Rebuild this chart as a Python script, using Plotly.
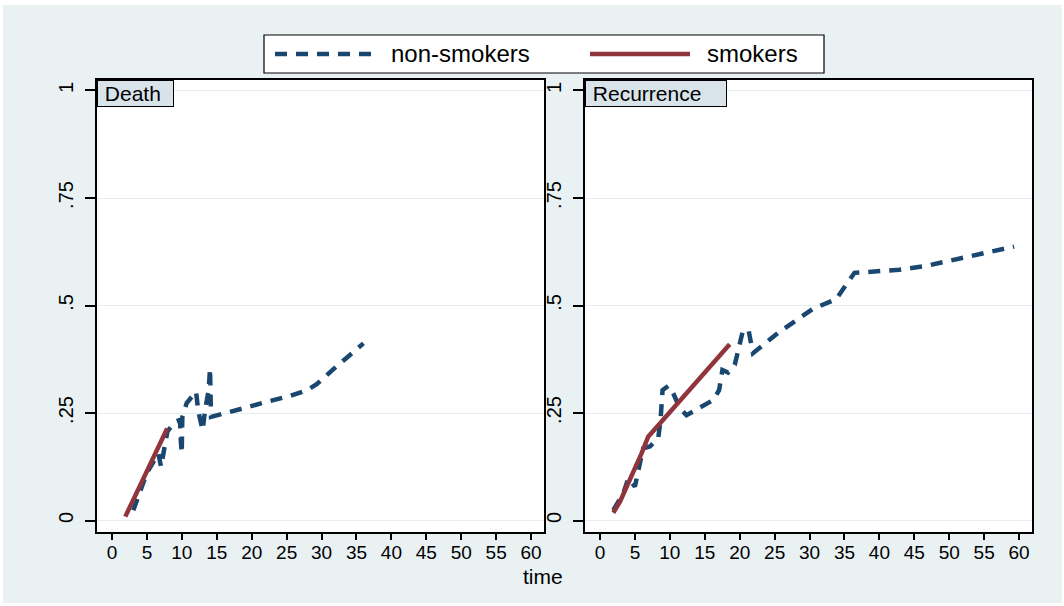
import plotly.graph_objects as go

# ---------------- data ----------------
death_non_x = [3.05, 4.01, 4.97, 6.64, 7.02, 7.45, 7.93, 9.02, 9.74, 9.83, 9.98, 10.07, 10.69,
               12.03, 12.36, 12.98, 13.32, 13.84, 14.03, 14.18, 15.7, 18.8, 22.15, 25.5, 27.9,
               29.3, 31.7, 33.8, 36.0]
death_non_y = [0.024, 0.071, 0.110, 0.156, 0.125, 0.164, 0.207, 0.230, 0.234, 0.191, 0.156, 0.241, 0.273,
               0.300, 0.253, 0.210, 0.257, 0.303, 0.354, 0.241, 0.247, 0.261, 0.276, 0.290, 0.303,
               0.317, 0.352, 0.383, 0.412]
death_smk_x = [1.9, 4.7, 7.9]
death_smk_y = [0.009, 0.102, 0.214]

rec_non_x = [1.90, 3.33, 4.05, 5.0, 5.71, 6.19, 7.14, 8.33, 8.67, 8.95, 9.76, 10.48, 11.43, 12.38,
             16.19, 17.05, 17.52, 18.33, 19.29, 19.9, 20.48, 21.29, 21.9, 25.71, 30.48, 33.81,
             35.0, 36.43, 42.86, 46.67, 59.29]
rec_non_y = [0.024, 0.063, 0.098, 0.079, 0.133, 0.168, 0.172, 0.191, 0.234, 0.303, 0.313, 0.296, 0.261, 0.245,
             0.280, 0.303, 0.350, 0.344, 0.362, 0.408, 0.443, 0.441, 0.389, 0.439, 0.492, 0.515,
             0.544, 0.576, 0.583, 0.592, 0.637]
rec_smk_x = [1.9, 2.86, 5.95, 6.9, 18.57]
rec_smk_y = [0.018, 0.044, 0.156, 0.195, 0.410]

panels = ["Death", "Recurrence"]
series_names = ["non-smokers", "smokers"]
x_ticks = list(range(0, 61, 5))
y_ticks = [0, 0.25, 0.5, 0.75, 1]
y_ticktext = ["0", ".25", ".5", ".75", "1"]

# ---------------- style ----------------
W, H = 1064, 606
NAVY = "#1A476F"
MAROON = "#90353B"
BG = "#E9F1F3"
STRIP = "#D8E4EA"
GRID = "#E4EDF0"
FONT = "Liberation Sans, Arial, sans-serif"
DASH = "12px,9px"

def px_x(p):
    return p / W

def px_y(p):
    return 1 - p / H

fig = go.Figure()

fig.add_trace(go.Scatter(x=death_non_x, y=death_non_y, mode="lines", name=series_names[0],
                         line=dict(color=NAVY, width=4.5, dash=DASH), xaxis="x", yaxis="y"))
fig.add_trace(go.Scatter(x=death_smk_x, y=death_smk_y, mode="lines", name=series_names[1],
                         line=dict(color=MAROON, width=4.5), xaxis="x", yaxis="y"))
fig.add_trace(go.Scatter(x=rec_non_x, y=rec_non_y, mode="lines", name=series_names[0],
                         line=dict(color=NAVY, width=4.5, dash=DASH), xaxis="x2", yaxis="y2"))
fig.add_trace(go.Scatter(x=rec_smk_x, y=rec_smk_y, mode="lines", name=series_names[1],
                         line=dict(color=MAROON, width=4.5), xaxis="x2", yaxis="y2"))

xrange = [-2.15, 61.85]
yrange = [-0.0267, 1.0244]
ydom = [px_y(532), px_y(80)]

common_x = dict(range=xrange, tickvals=x_ticks, ticks="outside", ticklen=6, tickwidth=1.5,
                tickcolor="black", showline=True, linecolor="black", linewidth=2, mirror=True,
                showgrid=False, zeroline=False, ticklabelstandoff=-4,
                tickfont=dict(family=FONT, size=19, color="black"))
common_y = dict(range=yrange, tickvals=y_ticks, ticktext=y_ticktext, ticks="outside", ticklen=10,
                tickwidth=1.5, tickcolor="black", showline=True, linecolor="black", linewidth=2,
                mirror=True, showgrid=True, gridcolor=GRID, gridwidth=1, zeroline=False,
                tickangle=-90, ticklabelstandoff=4,
                tickfont=dict(family=FONT, size=20, color="black"), domain=ydom)

fig.update_layout(
    width=W, height=H,
    margin=dict(l=0, r=0, t=0, b=0),
    paper_bgcolor=BG,
    plot_bgcolor="white",
    showlegend=False,
    font=dict(family=FONT, color="black"),
    xaxis=dict(domain=[px_x(97), px_x(544)], anchor="y", **common_x),
    yaxis=dict(anchor="x", **common_y),
    xaxis2=dict(domain=[px_x(585), px_x(1032)], anchor="y2", **common_x),
    yaxis2=dict(anchor="x2", **common_y),
)

shapes = []
# thin white outer frame
for x0, x1, y0, y1 in [(0, W, 0, 5), (0, 3, 0, H), (0, W, 603, H), (1062, W, 0, H)]:
    shapes.append(dict(type="rect", xref="paper", yref="paper", x0=px_x(x0), x1=px_x(x1),
                       y0=px_y(y1), y1=px_y(y0), fillcolor="white", line=dict(width=0)))
# legend box
shapes.append(dict(type="rect", xref="paper", yref="paper", x0=px_x(264), x1=px_x(824),
                   y0=px_y(73), y1=px_y(35), fillcolor="white", line=dict(color="black", width=1.2)))
shapes.append(dict(type="line", xref="paper", yref="paper", x0=px_x(275), x1=px_x(376),
                   y0=px_y(54), y1=px_y(54), line=dict(color=NAVY, width=4.5, dash=DASH)))
shapes.append(dict(type="line", xref="paper", yref="paper", x0=px_x(590), x1=px_x(690),
                   y0=px_y(54), y1=px_y(54), line=dict(color=MAROON, width=4.5)))
fig.update_layout(shapes=shapes)

annotations = []
annotations.append(dict(text=series_names[0], xref="paper", yref="paper", x=px_x(389), y=px_y(54),
                        xanchor="left", yanchor="middle", showarrow=False,
                        font=dict(family=FONT, size=24, color="black")))
annotations.append(dict(text=series_names[1], xref="paper", yref="paper", x=px_x(705), y=px_y(54),
                        xanchor="left", yanchor="middle", showarrow=False,
                        font=dict(family=FONT, size=24, color="black")))
# strip labels
strip_specs = [(panels[0], 97, 77), (panels[1], 585, 142)]
for txt, left, wid in strip_specs:
    annotations.append(dict(text="\u00a0" + txt, xref="paper", yref="paper", x=px_x(left), y=px_y(80),
                            xanchor="left", yanchor="top", showarrow=False, align="left",
                            width=wid - 4, height=23, borderpad=1, bgcolor=STRIP,
                            bordercolor="black", borderwidth=1,
                            font=dict(family=FONT, size=21, color="black")))
# x title
annotations.append(dict(text="time", xref="paper", yref="paper", x=px_x(543), y=px_y(576),
                        xanchor="center", yanchor="middle", showarrow=False,
                        font=dict(family=FONT, size=21, color="black")))
fig.update_layout(annotations=annotations)

fig.write_html("out.html")
